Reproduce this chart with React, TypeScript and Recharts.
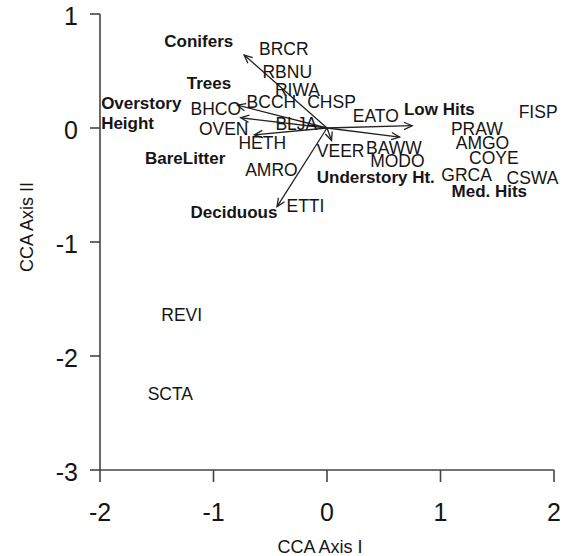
import React from 'react'
import { ScatterChart, Scatter, XAxis, YAxis, ReferenceLine, Label } from 'recharts'

// species scores (label centres)
const species = ['BRCR', 'RBNU', 'RIWA', 'CHSP', 'BCCH', 'BHCO', 'OVEN', 'BLJA', 'HETH', 'AMRO', 'ETTI', 'VEER', 'EATO', 'BAWW', 'MODO', 'FISP', 'PRAW', 'AMGO', 'COYE', 'GRCA', 'CSWA', 'REVI', 'SCTA']
const speciesX = [-0.38, -0.35, -0.26, 0.04, -0.49, -0.98, -0.91, -0.27, -0.57, -0.49, -0.19, 0.12, 0.43, 0.59, 0.62, 1.86, 1.32, 1.37, 1.47, 1.23, 1.81, -1.28, -1.38]
const speciesY = [0.70, 0.49, 0.34, 0.23, 0.23, 0.17, -0.01, 0.04, -0.13, -0.37, -0.68, -0.20, 0.11, -0.17, -0.29, 0.14, -0.01, -0.13, -0.26, -0.41, -0.44, -1.64, -2.33]

// environmental vectors (arrow tips) and where their names sit
const envNames = ['Conifers', 'Trees', 'Overstory\nHeight', 'BareLitter', 'Deciduous', 'Understory Ht.', 'Low Hits', 'Med. Hits']
const envX = [-0.73, -0.79, -0.76, -0.64, -0.44, 0.04, 0.75, 0.64]
const envY = [0.64, 0.20, 0.09, -0.06, -0.69, -0.11, 0.02, -0.08]
const envLabelX = [-1.13, -1.04, -1.99, -1.25, -0.82, 0.43, 0.99, 1.43]
const envLabelY = [0.76, 0.40, 0.13, -0.26, -0.74, -0.43, 0.17, -0.55]

const xTicks = [-2, -1, 0, 1, 2]
const yTicks = [-3, -2, -1, 0, 1]

const FONT = '"Liberation Sans", Arial, sans-serif'
const INK = '#151515'
const AXIS = '#444'

const speciesData = species.map((name, i) => ({ name, x: speciesX[i], y: speciesY[i] }))
const envLabelData = envNames.map((name, i) => ({ name, x: envLabelX[i], y: envLabelY[i] }))

const SpeciesText = (p: any) => (
  <text x={p.cx} y={p.cy} dy="0.36em" textAnchor="middle" fontSize={17.5} fontFamily={FONT} fill={INK}>
    {p.payload.name}
  </text>
)

const EnvText = (p: any) => {
  const lines: string[] = p.payload.name.split('\n')
  if (lines.length > 1) {
    return (
      <text x={p.cx} y={p.cy} textAnchor="start" fontSize={17} fontWeight="bold" fontFamily={FONT} fill={INK}>
        {lines.map((l, i) => (
          <tspan key={i} x={p.cx} dy={i === 0 ? -4 : 20}>{l}</tspan>
        ))}
      </text>
    )
  }
  return (
    <text x={p.cx} y={p.cy} dy="0.36em" textAnchor="middle" fontSize={17} fontWeight="bold" fontFamily={FONT} fill={INK}>
      {lines[0]}
    </text>
  )
}

const Arrow = (p: any) => {
  const { x1, y1, x2, y2 } = p
  const a = Math.atan2(y2 - y1, x2 - x1)
  const len = 9
  const s = 0.42
  const ax = x2 - len * Math.cos(a - s)
  const ay = y2 - len * Math.sin(a - s)
  const bx = x2 - len * Math.cos(a + s)
  const by = y2 - len * Math.sin(a + s)
  return (
    <g>
      <line x1={x1} y1={y1} x2={x2} y2={y2} stroke="#222" strokeWidth={1.3} />
      <polyline points={`${ax},${ay} ${x2},${y2} ${bx},${by}`} fill="none" stroke="#222" strokeWidth={1.3} />
    </g>
  )
}

const XTick = (p: any) => (
  <text x={p.x} y={p.y} dy={39} textAnchor="middle" fontSize={25} fontFamily={FONT} fill={INK}>
    {p.payload.value}
  </text>
)

const YTick = (p: any) => (
  <text x={p.x} y={p.y} dy={11} textAnchor="end" fontSize={25} fontFamily={FONT} fill={INK}>
    {p.payload.value}
  </text>
)

export default function App() {
  return (
    <div style={{ position: 'absolute', left: 0, top: 0, width: 568, height: 556, background: '#fff' }}>
      <ScatterChart width={568} height={556} margin={{ top: 14, right: 14, left: 20, bottom: 0 }}>
        <XAxis
          type="number"
          dataKey="x"
          domain={[-2, 2]}
          ticks={xTicks}
          height={86}
          tickSize={12}
          tickMargin={0}
          tick={XTick}
          axisLine={{ stroke: AXIS, strokeWidth: 1.6 }}
          tickLine={{ stroke: AXIS, strokeWidth: 1.6 }}
        >
          <Label
            content={({ viewBox }: any) => (
              <text x={viewBox.x + viewBox.width / 2 - 7} y={viewBox.y + viewBox.height - 3} textAnchor="middle" fontSize={18} fontFamily={FONT} fill={INK}>
                CCA Axis I
              </text>
            )}
          />
        </XAxis>
        <YAxis
          type="number"
          dataKey="y"
          domain={[-3, 1]}
          ticks={yTicks}
          width={80}
          tickSize={10}
          tickMargin={12}
          tick={YTick}
          axisLine={{ stroke: AXIS, strokeWidth: 1.6 }}
          tickLine={{ stroke: AXIS, strokeWidth: 1.6 }}
        >
          <Label
            content={({ viewBox }: any) => {
              const cx = viewBox.x + 13
              const cy = viewBox.y + viewBox.height / 2 - 15
              return (
                <text x={cx} y={cy} transform={`rotate(-90, ${cx}, ${cy})`} textAnchor="middle" fontSize={18} fontFamily={FONT} fill={INK}>
                  CCA Axis II
                </text>
              )
            }}
          />
        </YAxis>
        {envX.map((x, i) => (
          <ReferenceLine key={i} segment={[{ x: 0, y: 0 }, { x, y: envY[i] }]} shape={Arrow} ifOverflow="visible" />
        ))}
        <Scatter data={speciesData} shape={SpeciesText} isAnimationActive={false} />
        <Scatter data={envLabelData} shape={EnvText} isAnimationActive={false} />
      </ScatterChart>
    </div>
  )
}
